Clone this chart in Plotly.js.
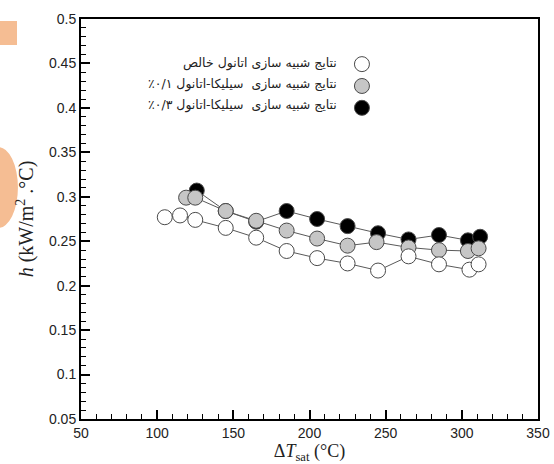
<!DOCTYPE html>
<html>
<head>
<meta charset="utf-8">
<script src="https://cdn.plot.ly/plotly-3.0.1.min.js"></script>
<style>html,body{margin:0;padding:0;background:#fff;}#chart{width:554px;height:464px;}</style>
</head>
<body>
<div id="chart"></div>
<script>
// Data
const dT_pure = [105, 115, 125, 145, 165, 185, 205, 225, 245, 265, 285, 305, 311];
const h_pure  = [0.277, 0.279, 0.274, 0.265, 0.254, 0.239, 0.231, 0.225, 0.217, 0.233, 0.224, 0.218, 0.224];

const dT_si01 = [119, 125, 145, 165, 185, 205, 225, 244, 265, 285, 304, 311];
const h_si01  = [0.299, 0.299, 0.284, 0.273, 0.262, 0.253, 0.245, 0.249, 0.243, 0.240, 0.239, 0.242];

const dT_si03 = [126, 145, 165, 185, 205, 225, 245, 265, 285, 304, 312];
const h_si03  = [0.307, 0.284, 0.272, 0.284, 0.275, 0.267, 0.259, 0.252, 0.257, 0.251, 0.255];

const seriesLabels = [
  "نتایج شبیه سازی اتانول خالص",
  "نتایج شبیه سازی  سیلیکا-اتانول ۰/۱٪",
  "نتایج شبیه سازی  سیلیکا-اتانول ۰/۳٪"
];

const yTickVals = [0.05, 0.1, 0.15, 0.2, 0.25, 0.3, 0.35, 0.4, 0.45, 0.5];
const yTickText = ["0.05", "0.1", "0.15", "0.2", "0.25", "0.3", "0.35", "0.4", "0.45", "0.5"];
const xTickVals = [50, 100, 150, 200, 250, 300, 350];
const xTickText = ["50", "100", "150", "200", "250", "300", "350"];

const fills = ['#ffffff', '#c6c6c6', '#000000'];
const xs = [dT_pure, dT_si01, dT_si03];
const ys = [h_pure, h_si01, h_si03];

function lineTrace(i) {
  return {
    x: xs[i], y: ys[i], type: 'scatter', mode: 'lines', showlegend: false,
    line: {color: '#5a5a5a', width: 1}, hoverinfo: 'skip'
  };
}
function markerTrace(i) {
  return {
    x: xs[i], y: ys[i], type: 'scatter', mode: 'markers', name: '',
    legendrank: i + 1,
    marker: {size: 15, color: fills[i], line: {color: '#4a4a4a', width: 1}},
    hoverinfo: 'x+y'
  };
}

// draw order: black (0.3%) at the back, white (pure) on top
const traces = [lineTrace(2), lineTrace(1), lineTrace(0), markerTrace(2), markerTrace(1), markerTrace(0)];

const serif = 'Liberation Serif, Times New Roman, serif';
const sans = 'Liberation Sans, Arial, sans-serif';

const RLE = '\u202B', PDF = '\u202C';
const annotations = seriesLabels.map((t, i) => ({
  text: RLE + t + PDF, xref: 'paper', yref: 'paper', x: 0.565, y: [0.89, 0.8375, 0.785][i],
  xanchor: 'right', yanchor: 'middle', showarrow: false,
  font: {family: 'DejaVu Sans, sans-serif', size: 12.5, color: '#222'}
}));

const layout = {
  width: 554, height: 464,
  margin: {l: 81, r: 16, t: 19, b: 45},
  paper_bgcolor: '#fff', plot_bgcolor: '#fff',
  showlegend: true,
  legend: {
    x: 0.571, y: 0.927, xanchor: 'left', yanchor: 'top',
    bgcolor: 'rgba(0,0,0,0)', borderwidth: 0,
    font: {size: 14.5}, itemwidth: 30
  },
  xaxis: {
    range: [50, 350], tickvals: xTickVals, ticktext: xTickText,
    ticks: 'inside', ticklen: 9, tickwidth: 2, tickcolor: '#000',
    minor: {dtick: 10, tick0: 50, ticks: 'inside', ticklen: 5, tickwidth: 1, tickcolor: '#000'},
    showline: true, linewidth: 2, linecolor: '#000', mirror: true,
    showgrid: false, zeroline: false,
    tickfont: {family: sans, size: 14, color: '#222'},
    title: {text: 'Δ<i>T</i><sub>sat</sub> (°C)', font: {family: serif, size: 18, color: '#222'}, standoff: 4}
  },
  yaxis: {
    range: [0.05, 0.5], tickvals: yTickVals, ticktext: yTickText,
    ticks: 'inside', ticklen: 9, tickwidth: 2, tickcolor: '#000',
    minor: {dtick: 0.01, tick0: 0.05, ticks: 'inside', ticklen: 5, tickwidth: 1, tickcolor: '#000'},
    showline: true, linewidth: 2, linecolor: '#000', mirror: true,
    showgrid: false, zeroline: false,
    tickfont: {family: sans, size: 14, color: '#222'},
    title: {text: '<i>h</i> (kW/m<sup>2</sup> .°C)', font: {family: serif, size: 20, color: '#222'}, standoff: 10}
  },
  annotations: annotations,
  shapes: [
    {type: 'rect', xref: 'paper', yref: 'paper', x0: -0.18, x1: -0.14, y0: 0.935, y1: 0.995,
     fillcolor: '#f5bd93', line: {width: 0}, layer: 'below'},
    {type: 'circle', xref: 'paper', yref: 'paper', x0: -0.225, x1: -0.138, y0: 0.4775, y1: 0.68,
     fillcolor: '#f5bd93', line: {width: 0}, layer: 'below'}
  ]
};

Plotly.newPlot('chart', traces, layout, {displayModeBar: false, staticPlot: true});
</script>
</body>
</html>
